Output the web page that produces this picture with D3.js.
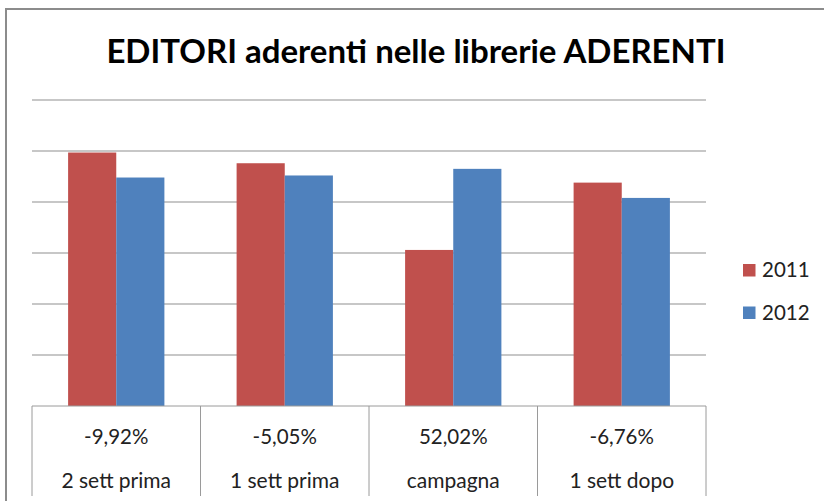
<!DOCTYPE html>
<html><head><meta charset="utf-8">
<script src="https://cdn.jsdelivr.net/npm/d3@7"></script>
<style>body{margin:0;background:#fff}svg{display:block}</style>
</head><body>
<svg id="c" width="824" height="501"></svg>
<script>
const categories = ["2 sett prima","1 sett prima","campagna","1 sett dopo"];
const percentLabels = ["-9,92%","-5,05%","52,02%","-6,76%"];
const series = ["2011","2012"];
const values2011 = [49.7, 47.6, 30.6, 43.8];
const values2012 = [44.8, 45.2, 46.5, 40.8];
const yTicks = [0,10,20,30,40,50,60];
const title = "EDITORI aderenti nelle librerie ADERENTI";

const colors = {"2011":"#C0504D","2012":"#4F81BD"};
const font = "Lato, 'Open Sans', sans-serif";
const svg = d3.select("#c");

// outer frame
svg.append("path").attr("d","M6,501 V9 H824").attr("fill","none").attr("stroke","#8c8c8c").attr("stroke-width",2);

const L=32, R=706, T=100, B=406;
const x0 = d3.scaleBand().domain(categories).range([L,R]).paddingInner(0).paddingOuter(0);
const x1 = d3.scaleBand().domain(series).range([0,x0.bandwidth()]).paddingInner(0).paddingOuter(0.75);
const y = d3.scaleLinear().domain([0,60]).range([B,T]);

// gridlines
svg.append("g").selectAll("line").data(yTicks.filter(t=>t>0)).join("line")
  .attr("x1",L).attr("x2",R).attr("y1",d=>y(d)).attr("y2",d=>y(d))
  .attr("stroke","#b4b4b4").attr("stroke-width",1.5);

// bars
const rows = categories.map((c,i)=>({c, vals:[{s:"2011",v:values2011[i]},{s:"2012",v:values2012[i]}]}));
svg.append("g").selectAll("g").data(rows).join("g")
  .attr("transform",d=>`translate(${x0(d.c)},0)`)
  .selectAll("rect").data(d=>d.vals).join("rect")
  .attr("x",d=>x1(d.s)).attr("width",x1.bandwidth())
  .attr("y",d=>y(d.v)).attr("height",d=>B-y(d.v))
  .attr("fill",d=>colors[d.s]);

// axis line + table
svg.append("line").attr("x1",L).attr("x2",R).attr("y1",B).attr("y2",B).attr("stroke","#9a9a9a").attr("stroke-width",1);
const seps = categories.map(c=>x0(c)).concat([R]);
svg.append("g").selectAll("line").data(seps).join("line")
  .attr("x1",d=>d).attr("x2",d=>d).attr("y1",B).attr("y2",496)
  .attr("stroke","#9a9a9a").attr("stroke-width",1);

svg.append("g").selectAll("text").data(categories).join("text")
  .attr("x",d=>x0(d)+x0.bandwidth()/2).attr("y",443.5)
  .attr("text-anchor","middle").attr("font-family",font).attr("font-size",20.5).attr("fill","#222")
  .text((d,i)=>percentLabels[i]);
svg.append("g").selectAll("text").data(categories).join("text")
  .attr("x",d=>x0(d)+x0.bandwidth()/2).attr("y",487.5)
  .attr("text-anchor","middle").attr("font-family",font).attr("font-size",21).attr("fill","#222")
  .text(d=>d);

// title
svg.append("text").attr("x",416).attr("y",63).attr("text-anchor","middle")
  .attr("font-family",font).attr("font-weight","bold").attr("font-size",33).attr("fill","#000")
  .text(title);

// legend
const lg = svg.append("g").selectAll("g").data(series).join("g")
  .attr("transform",(d,i)=>`translate(743,${264+i*42.5})`);
lg.append("rect").attr("width",12.5).attr("height",12.5).attr("fill",d=>colors[d]);
lg.append("text").attr("x",19).attr("y",13).attr("font-family",font).attr("font-size",20.5).attr("fill","#222").text(d=>d);
</script>
</body></html>
